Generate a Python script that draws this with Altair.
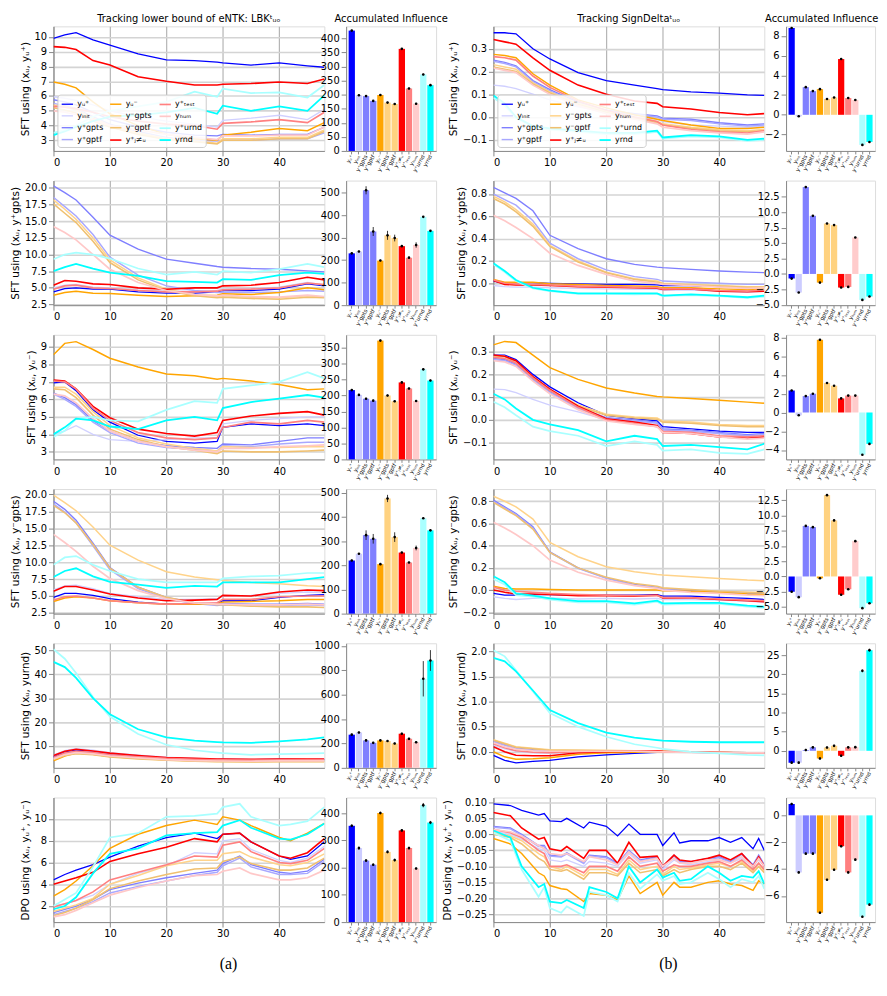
import altair as alt
import pandas as pd

# ---------------- series identity ----------------
LABELS = ["yᵤ⁺", "yᵢₙᵢₜ", "y⁺gpts", "y⁺gptf", "yᵤ⁻", "y⁻gpts", "y⁻gptf",
          "y⁺ⱼ≠ᵤ", "y⁺ₜₑₛₜ", "yₕᵤₘ", "y⁺urnd", "yrnd"]
LINE_COLORS = ["#0000ff", "#d0d0ff", "#7f7fff", "#a8a8ff", "#ffa500", "#ffd38a",
               "#f0c070", "#ff0000", "#ff8080", "#ffc8c8", "#a8ffff", "#00ffff"]
LINE_WIDTHS = [1.3, 1.8, 1.2, 2.2, 1.3, 2.2, 1.6, 1.3, 1.3, 1.8, 1.2, 1.5]
BAR_COLORS = ["#0000ff", "#ccccff", "#8080ff", "#8080ff", "#ffa500", "#ffd280",
              "#ffd280", "#ff0000", "#ff8080", "#ffcccc", "#aaffff", "#00ffff"]

# ---------------- epochs ----------------
X = [0, 2, 4, 7, 10, 15, 20, 25, 29, 30, 35, 40, 45, 48]
XL6 = [0, 2, 4, 7, 10, 15, 20, 25, 29, 30, 33, 35, 40, 42, 45, 48]
XR6 = [0, 3, 5, 8, 9, 10, 12, 13, 16, 17, 20, 22, 24, 26, 29, 30, 32, 33, 35, 38,
       40, 42, 44, 46, 47, 48]

# ---------------- line series (order = LABELS) ----------------
L1 = [
    [9.9, 10.15, 10.3, 9.8, 9.45, 8.85, 8.45, 8.4, 8.3, 8.25, 8.1, 8.25, 8.05, 7.95],
    [5.95, 5.85, 5.7, 5.4, 5.0, 4.6, 4.3, 4.1, 3.9, 4.35, 4.5, 4.7, 4.4, 5.1],
    [5.75, 5.6, 5.4, 4.9, 4.4, 3.9, 3.55, 3.35, 3.3, 3.4, 3.35, 3.4, 3.4, 3.9],
    [5.5, 5.35, 5.15, 4.6, 4.1, 3.6, 3.2, 3.0, 2.95, 3.0, 3.0, 3.1, 3.1, 3.5],
    [6.95, 6.8, 6.55, 5.6, 4.8, 4.0, 3.4, 3.1, 3.0, 3.35, 3.55, 3.8, 3.65, 4.2],
    [5.4, 5.25, 5.05, 4.5, 4.0, 3.5, 3.1, 2.95, 2.8, 3.1, 3.1, 3.2, 3.2, 3.7],
    [5.2, 5.05, 4.85, 4.3, 3.9, 3.4, 3.05, 2.9, 2.75, 3.0, 3.0, 3.1, 3.1, 3.6],
    [9.35, 9.3, 9.15, 8.4, 8.1, 7.3, 7.0, 6.75, 6.75, 6.8, 6.85, 6.95, 6.85, 7.15],
    [5.3, 5.25, 5.15, 4.9, 4.6, 4.3, 4.1, 4.0, 3.75, 4.15, 4.25, 4.4, 4.2, 4.9],
    [5.0, 4.9, 4.75, 4.4, 4.0, 3.7, 3.4, 3.2, 3.05, 3.3, 3.3, 3.35, 3.35, 3.9],
    [3.5, 3.7, 4.0, 4.6, 5.0, 5.3, 5.6, 6.3, 5.95, 6.5, 6.2, 6.25, 5.9, 6.75],
    [3.35, 3.6, 3.9, 4.3, 4.6, 4.7, 4.9, 5.2, 4.8, 5.35, 5.0, 5.3, 5.0, 6.05],
]
R1 = [
    [0.37, 0.37, 0.365, 0.30, 0.255, 0.195, 0.16, 0.14, 0.125, 0.12, 0.11, 0.105, 0.097, 0.095],
    [0.14, 0.135, 0.125, 0.10, 0.075, 0.045, 0.02, 0.0, -0.01, -0.02, -0.035, -0.04, -0.045, -0.04],
    [0.25, 0.24, 0.225, 0.16, 0.12, 0.065, 0.03, 0.015, 0.005, -0.005, -0.01, -0.025, -0.035, -0.03],
    [0.245, 0.235, 0.22, 0.155, 0.115, 0.06, 0.025, 0.01, 0.0, -0.01, -0.015, -0.03, -0.04, -0.035],
    [0.275, 0.27, 0.26, 0.19, 0.14, 0.075, 0.04, 0.01, -0.01, -0.015, -0.035, -0.05, -0.05, -0.045],
    [0.23, 0.22, 0.21, 0.15, 0.11, 0.06, 0.025, 0.0, -0.02, -0.03, -0.045, -0.055, -0.06, -0.055],
    [0.22, 0.21, 0.2, 0.145, 0.105, 0.055, 0.02, -0.005, -0.025, -0.035, -0.05, -0.06, -0.065, -0.06],
    [0.34, 0.33, 0.32, 0.26, 0.205, 0.14, 0.10, 0.07, 0.06, 0.045, 0.035, 0.02, 0.01, 0.015],
    [0.265, 0.26, 0.25, 0.18, 0.13, 0.07, 0.03, 0.0, -0.02, -0.035, -0.055, -0.065, -0.07, -0.06],
    [0.215, 0.205, 0.195, 0.14, 0.10, 0.05, 0.015, -0.01, -0.03, -0.045, -0.06, -0.07, -0.075, -0.065],
    [0.085, 0.05, -0.005, -0.045, -0.055, -0.065, -0.075, -0.075, -0.065, -0.095, -0.085, -0.09, -0.105, -0.1],
    [0.095, 0.06, 0.0, -0.04, -0.05, -0.06, -0.07, -0.07, -0.06, -0.09, -0.08, -0.085, -0.1, -0.095],
]
L2 = [
    [4.4, 4.9, 5.0, 4.8, 4.8, 4.4, 4.2, 4.2, 4.4, 4.6, 4.6, 4.8, 5.6, 5.3],
    [5.0, 5.4, 5.5, 5.1, 5.0, 4.7, 4.5, 4.5, 4.6, 4.8, 4.9, 5.1, 5.8, 5.4],
    [20.3, 19.3, 18.2, 15.6, 12.9, 10.8, 9.3, 8.7, 8.2, 8.1, 7.9, 7.8, 7.55, 7.4],
    [18.6, 17.2, 15.8, 13.0, 9.6, 6.9, 5.3, 4.6, 4.3, 4.35, 4.3, 4.4, 4.6, 4.5],
    [3.9, 4.3, 4.5, 4.2, 4.15, 3.9, 3.7, 3.8, 3.9, 4.1, 4.0, 4.3, 5.0, 4.7],
    [18.2, 16.8, 15.3, 12.5, 9.2, 6.5, 4.8, 4.0, 3.7, 3.8, 3.6, 3.5, 3.8, 3.6],
    [17.6, 16.2, 14.8, 12.0, 8.8, 6.2, 4.6, 3.8, 3.5, 3.6, 3.4, 3.3, 3.6, 3.5],
    [5.4, 6.1, 6.0, 5.6, 5.5, 5.0, 4.8, 5.0, 5.0, 5.3, 5.4, 5.8, 6.6, 6.2],
    [4.8, 5.3, 5.4, 5.0, 4.9, 4.6, 4.4, 4.4, 4.5, 4.7, 4.8, 5.0, 5.7, 5.5],
    [14.2, 13.3, 12.2, 10.0, 7.8, 5.8, 4.6, 4.0, 3.8, 3.9, 3.7, 3.6, 3.9, 3.7],
    [9.3, 10.0, 10.3, 10.0, 9.4, 7.9, 7.0, 7.4, 7.0, 7.5, 7.3, 7.8, 8.6, 8.1],
    [7.5, 8.1, 8.6, 7.9, 7.3, 6.8, 6.0, 5.9, 5.8, 6.3, 6.2, 6.9, 7.3, 7.1],
]
R2 = [
    [0.02, 0.0, 0.005, 0.005, 0.0, -0.005, -0.01, -0.01, -0.015, -0.02, -0.02, -0.03, -0.035, -0.035],
    [-0.02, -0.03, -0.035, -0.035, -0.04, -0.045, -0.05, -0.055, -0.055, -0.06, -0.06, -0.07, -0.08, -0.07],
    [0.86, 0.81, 0.76, 0.65, 0.43, 0.31, 0.22, 0.17, 0.145, 0.14, 0.125, 0.11, 0.10, 0.095],
    [0.80, 0.75, 0.70, 0.56, 0.36, 0.22, 0.12, 0.06, 0.035, 0.02, 0.01, 0.0, -0.01, -0.01],
    [0.035, 0.01, 0.01, 0.01, -0.005, -0.01, -0.02, -0.025, -0.03, -0.04, -0.04, -0.05, -0.055, -0.05],
    [0.78, 0.73, 0.66, 0.53, 0.34, 0.20, 0.10, 0.04, 0.02, 0.0, -0.01, -0.02, -0.03, -0.03],
    [0.76, 0.71, 0.64, 0.51, 0.33, 0.19, 0.095, 0.035, 0.01, -0.005, -0.015, -0.025, -0.035, -0.035],
    [0.025, -0.01, -0.015, -0.015, -0.02, -0.03, -0.035, -0.04, -0.045, -0.055, -0.05, -0.07, -0.075, -0.07],
    [0.03, 0.0, -0.005, -0.01, -0.015, -0.025, -0.03, -0.035, -0.04, -0.05, -0.05, -0.065, -0.07, -0.06],
    [0.61, 0.56, 0.50, 0.40, 0.27, 0.16, 0.08, 0.02, 0.0, -0.01, -0.02, -0.035, -0.045, -0.04],
    [0.17, 0.10, 0.02, -0.045, -0.07, -0.095, -0.095, -0.10, -0.095, -0.115, -0.105, -0.115, -0.13, -0.12],
    [0.18, 0.11, 0.03, -0.04, -0.065, -0.09, -0.09, -0.09, -0.09, -0.11, -0.10, -0.11, -0.125, -0.11],
]
L3 = [
    [6.95, 7.0, 6.5, 5.4, 4.7, 3.95, 3.6, 3.5, 3.6, 4.4, 4.6, 4.5, 4.6, 4.5],
    [4.0, 4.2, 4.5, 4.0, 3.7, 3.6, 3.7, 3.8, 3.8, 4.6, 4.8, 4.9, 5.0, 5.0],
    [6.35, 6.1, 5.7, 4.8, 4.2, 3.6, 3.35, 3.25, 3.2, 3.45, 3.4, 3.6, 3.8, 3.8],
    [6.3, 6.0, 5.6, 4.7, 4.1, 3.5, 3.25, 3.15, 3.05, 3.35, 3.3, 3.45, 3.55, 3.55],
    [8.55, 9.2, 9.3, 8.85, 8.35, 7.85, 7.45, 7.35, 7.15, 7.2, 7.05, 6.85, 6.55, 6.6],
    [6.7, 6.7, 6.3, 5.3, 4.5, 3.8, 3.45, 3.2, 3.05, 3.3, 3.25, 3.25, 3.3, 3.3],
    [6.6, 6.55, 6.1, 5.1, 4.3, 3.7, 3.3, 3.1, 2.9, 3.05, 3.0, 3.0, 3.05, 3.1],
    [7.1, 7.05, 6.6, 5.6, 4.95, 4.3, 4.05, 3.9, 4.1, 4.8, 5.05, 5.2, 5.3, 5.1],
    [7.05, 7.0, 6.6, 5.5, 4.8, 4.1, 3.8, 3.7, 3.8, 4.4, 4.7, 4.6, 4.8, 4.7],
    [6.3, 6.2, 5.8, 4.9, 4.2, 3.6, 3.3, 3.1, 3.0, 3.2, 3.2, 3.3, 3.35, 3.4],
    [3.85, 4.2, 4.9, 5.0, 4.8, 4.75, 5.4, 5.9, 5.8, 6.6, 6.8, 7.0, 7.55, 7.2],
    [4.0, 4.4, 4.9, 4.8, 4.45, 4.3, 4.8, 5.0, 4.8, 5.5, 5.85, 6.05, 6.25, 6.1],
]
R3 = [
    [0.285, 0.285, 0.265, 0.2, 0.145, 0.075, 0.02, 0.005, -0.005, -0.03, -0.04, -0.05, -0.055, -0.055],
    [0.135, 0.133, 0.12, 0.09, 0.065, 0.035, 0.0, -0.02, -0.03, -0.04, -0.045, -0.06, -0.07, -0.07],
    [0.27, 0.265, 0.245, 0.18, 0.125, 0.055, 0.01, 0.0, -0.01, -0.04, -0.045, -0.055, -0.065, -0.06],
    [0.265, 0.26, 0.24, 0.175, 0.12, 0.05, 0.005, -0.005, -0.015, -0.045, -0.05, -0.06, -0.07, -0.065],
    [0.33, 0.345, 0.34, 0.285, 0.23, 0.178, 0.14, 0.118, 0.103, 0.101, 0.094, 0.086, 0.078, 0.073],
    [0.28, 0.28, 0.255, 0.19, 0.135, 0.065, 0.025, 0.012, 0.008, -0.005, -0.01, -0.02, -0.025, -0.025],
    [0.278, 0.278, 0.25, 0.185, 0.13, 0.06, 0.02, 0.008, 0.003, -0.01, -0.015, -0.025, -0.03, -0.03],
    [0.285, 0.28, 0.26, 0.19, 0.135, 0.06, 0.005, -0.01, -0.025, -0.055, -0.06, -0.075, -0.08, -0.075],
    [0.275, 0.27, 0.25, 0.185, 0.13, 0.055, 0.0, -0.015, -0.03, -0.05, -0.055, -0.07, -0.075, -0.07],
    [0.26, 0.255, 0.235, 0.17, 0.115, 0.045, -0.005, -0.02, -0.03, -0.055, -0.06, -0.075, -0.085, -0.08],
    [0.08, 0.055, 0.02, -0.03, -0.05, -0.07, -0.115, -0.095, -0.11, -0.135, -0.13, -0.145, -0.15, -0.13],
    [0.115, 0.09, 0.05, 0.0, -0.02, -0.045, -0.095, -0.07, -0.085, -0.115, -0.11, -0.12, -0.13, -0.105],
]
L4 = [
    [4.8, 5.4, 5.4, 5.1, 4.6, 4.1, 3.8, 3.8, 3.9, 4.3, 4.3, 4.8, 5.1, 5.2],
    [5.9, 6.5, 6.6, 6.1, 5.4, 4.9, 4.5, 4.5, 4.6, 5.0, 5.1, 5.4, 5.6, 5.5],
    [19.0, 17.8, 16.2, 12.8, 9.2, 6.3, 4.8, 4.0, 3.8, 3.9, 3.8, 3.8, 3.9, 3.8],
    [18.6, 17.4, 15.8, 12.4, 8.9, 6.1, 4.6, 3.9, 3.6, 3.7, 3.6, 3.6, 3.7, 3.6],
    [4.2, 4.7, 4.9, 4.7, 4.3, 4.0, 3.8, 3.8, 3.9, 4.1, 4.2, 4.3, 4.5, 4.5],
    [19.9, 18.8, 17.6, 15.2, 12.5, 10.3, 8.6, 7.8, 7.4, 7.3, 7.0, 6.8, 6.5, 6.4],
    [18.4, 17.3, 15.8, 12.6, 9.1, 6.3, 4.8, 4.0, 3.7, 3.7, 3.5, 3.4, 3.4, 3.3],
    [5.7, 6.4, 6.4, 5.9, 5.3, 4.7, 4.3, 4.4, 4.5, 5.1, 5.0, 5.6, 5.9, 5.8],
    [4.4, 4.9, 5.0, 4.7, 4.3, 4.0, 3.8, 3.9, 4.0, 4.5, 4.5, 4.9, 5.0, 5.0],
    [14.1, 12.9, 11.6, 9.4, 7.6, 5.8, 4.6, 4.0, 3.8, 3.8, 3.7, 3.7, 3.8, 3.7],
    [9.6, 10.7, 10.9, 9.6, 8.7, 7.5, 7.0, 7.0, 7.0, 7.6, 7.9, 8.0, 8.4, 8.4],
    [7.8, 8.7, 9.1, 7.9, 7.1, 6.7, 6.2, 6.5, 6.4, 7.0, 7.0, 7.0, 7.5, 7.8],
]
R4 = [
    [-0.03, -0.045, -0.045, -0.04, -0.04, -0.045, -0.045, -0.045, -0.04, -0.055, -0.055, -0.065, -0.075, -0.085],
    [-0.06, -0.075, -0.085, -0.075, -0.07, -0.08, -0.075, -0.08, -0.075, -0.085, -0.085, -0.09, -0.1, -0.11],
    [0.81, 0.75, 0.69, 0.57, 0.345, 0.2, 0.11, 0.05, 0.025, 0.01, -0.005, -0.02, -0.03, -0.035],
    [0.8, 0.74, 0.68, 0.56, 0.34, 0.195, 0.105, 0.045, 0.02, 0.005, -0.01, -0.025, -0.035, -0.04],
    [0.035, 0.015, 0.01, 0.01, 0.005, 0.0, 0.0, 0.0, 0.0, -0.005, -0.01, -0.02, -0.035, -0.04],
    [0.845, 0.8, 0.75, 0.64, 0.43, 0.3, 0.21, 0.165, 0.14, 0.135, 0.12, 0.105, 0.09, 0.085],
    [0.79, 0.73, 0.67, 0.55, 0.34, 0.2, 0.115, 0.06, 0.035, 0.02, 0.005, -0.01, -0.02, -0.025],
    [0.0, -0.02, -0.035, -0.035, -0.04, -0.05, -0.05, -0.055, -0.045, -0.07, -0.07, -0.085, -0.095, -0.105],
    [0.025, 0.0, -0.01, -0.02, -0.03, -0.04, -0.045, -0.05, -0.05, -0.065, -0.07, -0.08, -0.09, -0.095],
    [0.61, 0.56, 0.5, 0.4, 0.27, 0.16, 0.09, 0.04, 0.015, 0.0, -0.02, -0.03, -0.045, -0.05],
    [0.1, 0.05, -0.045, -0.06, -0.085, -0.11, -0.11, -0.13, -0.105, -0.13, -0.125, -0.125, -0.15, -0.16],
    [0.125, 0.07, -0.03, -0.05, -0.075, -0.1, -0.1, -0.12, -0.095, -0.12, -0.115, -0.115, -0.14, -0.15],
]
L5 = [
    [5.5, 7.5, 8.3, 7.8, 6.8, 5.9, 5.0, 4.5, 4.3, 4.4, 4.3, 4.4, 4.4, 4.4],
    [6.2, 8.0, 8.9, 8.2, 7.2, 6.2, 5.3, 4.8, 4.5, 4.5, 4.4, 4.5, 4.5, 4.5],
    [5.0, 7.0, 7.8, 7.2, 6.3, 5.4, 4.6, 4.2, 4.0, 4.0, 3.9, 4.0, 4.0, 4.0],
    [4.8, 6.6, 7.4, 6.9, 6.0, 5.2, 4.4, 4.0, 3.8, 3.8, 3.8, 3.9, 3.9, 3.9],
    [3.8, 5.8, 7.0, 6.5, 5.6, 4.9, 4.2, 3.8, 3.6, 3.6, 3.6, 3.6, 3.6, 3.6],
    [4.5, 6.2, 7.0, 6.5, 5.6, 4.8, 4.1, 3.7, 3.5, 3.5, 3.4, 3.5, 3.5, 3.5],
    [4.3, 6.0, 6.8, 6.3, 5.4, 4.6, 4.0, 3.6, 3.4, 3.4, 3.3, 3.4, 3.4, 3.4],
    [6.0, 7.8, 8.6, 7.9, 7.0, 6.0, 5.2, 4.8, 4.5, 4.5, 4.4, 4.5, 4.6, 4.5],
    [5.2, 7.0, 7.8, 7.2, 6.3, 5.5, 4.8, 4.4, 4.2, 4.2, 4.1, 4.2, 4.4, 4.3],
    [4.6, 6.4, 7.2, 6.7, 5.8, 5.0, 4.3, 3.9, 3.7, 3.7, 3.6, 3.8, 3.8, 3.8],
    [50.5, 46.5, 40.5, 30.5, 22.3, 15.0, 10.5, 8.2, 7.2, 7.0, 6.3, 6.6, 6.8, 7.0],
    [45.2, 43.0, 38.5, 30.0, 23.3, 17.0, 13.6, 12.2, 11.6, 11.5, 11.3, 11.9, 12.8, 13.6],
]
R5 = [
    [-0.07, -0.17, -0.22, -0.19, -0.17, -0.1, -0.06, -0.03, -0.01, -0.01, -0.01, -0.01, -0.02, -0.02],
    [0.13, 0.06, 0.01, -0.02, -0.03, -0.01, 0.0, 0.0, 0.0, 0.0, -0.01, -0.01, -0.02, -0.02],
    [0.22, 0.15, 0.08, 0.04, 0.02, 0.02, 0.02, 0.01, 0.0, 0.0, -0.01, -0.01, -0.02, -0.02],
    [0.2, 0.13, 0.06, 0.03, 0.01, 0.01, 0.01, 0.0, 0.0, -0.01, -0.01, -0.02, -0.02, -0.02],
    [0.0, -0.1, -0.15, -0.14, -0.12, -0.05, -0.02, -0.01, 0.0, 0.0, -0.01, -0.01, -0.03, -0.03],
    [0.24, 0.17, 0.1, 0.07, 0.04, 0.03, 0.03, 0.02, 0.01, 0.01, 0.0, -0.01, -0.02, -0.02],
    [0.23, 0.16, 0.09, 0.06, 0.03, 0.03, 0.02, 0.02, 0.01, 0.01, 0.0, -0.01, -0.02, -0.02],
    [0.1, 0.0, -0.07, -0.08, -0.08, -0.02, 0.0, 0.01, 0.02, 0.01, 0.0, -0.01, -0.03, -0.03],
    [0.16, 0.08, 0.02, -0.01, -0.02, 0.0, 0.01, 0.01, 0.01, 0.0, -0.01, -0.02, -0.03, -0.03],
    [0.18, 0.1, 0.05, 0.02, 0.01, 0.01, 0.01, 0.01, 0.0, 0.0, -0.01, -0.01, -0.02, -0.02],
    [2.02, 1.9, 1.62, 1.2, 0.77, 0.5, 0.3, 0.15, 0.08, 0.06, 0.0, -0.03, -0.06, -0.07],
    [1.87, 1.8, 1.6, 1.22, 0.83, 0.57, 0.38, 0.28, 0.23, 0.22, 0.2, 0.19, 0.19, 0.19],
]
L6 = [
    [4.4, 4.9, 5.3, 5.8, 6.5, 7.5, 8.3, 8.7, 8.2, 8.6, 8.7, 7.9, 6.6, 6.3, 6.6, 7.9],
    [2.0, 2.2, 2.5, 3.0, 4.0, 5.0, 5.7, 6.9, 6.8, 8.0, 8.2, 7.2, 6.2, 6.0, 6.4, 7.5],
    [1.4, 1.7, 2.0, 2.6, 3.5, 4.1, 4.6, 5.0, 5.3, 5.9, 6.6, 5.8, 5.1, 5.0, 5.2, 6.3],
    [1.2, 1.5, 1.8, 2.4, 3.2, 3.8, 4.3, 4.8, 5.1, 5.7, 6.4, 5.6, 4.9, 4.9, 5.0, 6.1],
    [2.9, 3.5, 4.3, 5.7, 7.3, 8.6, 9.4, 9.9, 9.5, 10.2, 9.9, 9.4, 8.3, 8.0, 8.7, 9.6],
    [1.5, 1.8, 2.1, 2.7, 4.0, 4.8, 5.7, 6.2, 6.2, 6.8, 7.0, 6.5, 5.8, 5.7, 6.0, 6.8],
    [1.1, 1.4, 1.8, 2.6, 3.6, 4.3, 4.9, 5.4, 5.5, 6.1, 6.5, 5.9, 5.3, 5.3, 5.5, 6.4],
    [4.0, 4.3, 4.6, 5.1, 6.1, 6.8, 7.4, 8.2, 7.9, 8.6, 8.7, 7.9, 6.6, 6.4, 6.9, 8.2],
    [1.9, 2.2, 2.5, 3.3, 4.4, 5.1, 5.8, 6.6, 6.5, 7.6, 7.9, 7.0, 6.0, 5.9, 6.2, 7.3],
    [1.0, 1.2, 1.6, 2.3, 3.0, 3.7, 4.3, 4.8, 4.9, 5.2, 5.5, 5.0, 4.4, 4.4, 4.6, 5.3],
    [2.0, 2.6, 3.2, 5.6, 8.3, 8.7, 10.2, 10.3, 10.5, 11.1, 11.4, 10.2, 9.4, 9.5, 9.8, 11.1],
    [1.7, 2.0, 2.8, 5.0, 6.8, 7.3, 8.5, 8.7, 8.8, 9.4, 9.9, 9.2, 8.2, 8.1, 8.6, 9.6],
]
R6 = [
    [0.095, 0.09, 0.075, 0.06, 0.065, 0.042, 0.04, 0.05, 0.02, 0.038, 0.025, -0.005, 0.032, 0.0, 0.0, -0.035, 0.005, -0.027, -0.02, -0.02, -0.01, -0.025, -0.01, -0.045, -0.013, -0.05],
    [0.01, 0.0, -0.015, -0.045, -0.05, -0.08, -0.085, -0.08, -0.1, -0.085, -0.09, -0.1, -0.06, -0.09, -0.08, -0.11, -0.08, -0.09, -0.095, -0.085, -0.08, -0.09, -0.075, -0.1, -0.08, -0.1],
    [0.025, 0.02, 0.0, -0.035, -0.035, -0.065, -0.068, -0.058, -0.088, -0.065, -0.07, -0.09, -0.05, -0.08, -0.07, -0.1, -0.065, -0.085, -0.085, -0.075, -0.07, -0.085, -0.06, -0.095, -0.065, -0.095],
    [0.022, 0.017, -0.003, -0.038, -0.038, -0.068, -0.071, -0.061, -0.091, -0.068, -0.073, -0.093, -0.053, -0.083, -0.073, -0.103, -0.068, -0.088, -0.088, -0.078, -0.073, -0.088, -0.063, -0.098, -0.068, -0.098],
    [-0.013, -0.03, -0.06, -0.12, -0.13, -0.16, -0.17, -0.172, -0.21, -0.185, -0.19, -0.205, -0.13, -0.185, -0.15, -0.19, -0.15, -0.165, -0.165, -0.15, -0.145, -0.155, -0.16, -0.175, -0.145, -0.155],
    [0.005, -0.005, -0.02, -0.06, -0.07, -0.1, -0.11, -0.1, -0.13, -0.11, -0.11, -0.125, -0.08, -0.11, -0.1, -0.125, -0.1, -0.11, -0.105, -0.095, -0.09, -0.1, -0.085, -0.115, -0.09, -0.115],
    [0.0, -0.01, -0.03, -0.075, -0.085, -0.11, -0.115, -0.11, -0.14, -0.12, -0.12, -0.13, -0.09, -0.12, -0.11, -0.13, -0.11, -0.12, -0.11, -0.1, -0.1, -0.11, -0.09, -0.12, -0.1, -0.12],
    [0.068, 0.058, 0.02, -0.015, -0.01, -0.045, -0.052, -0.038, -0.075, -0.05, -0.05, -0.09, -0.025, -0.072, -0.068, -0.1, -0.065, -0.08, -0.085, -0.075, -0.065, -0.08, -0.06, -0.1, -0.07, -0.1],
    [0.015, 0.005, -0.01, -0.05, -0.06, -0.1, -0.1, -0.095, -0.12, -0.1, -0.1, -0.115, -0.07, -0.1, -0.09, -0.115, -0.095, -0.1, -0.1, -0.09, -0.085, -0.1, -0.08, -0.11, -0.09, -0.11],
    [0.015, 0.008, -0.005, -0.035, -0.045, -0.06, -0.065, -0.06, -0.085, -0.07, -0.08, -0.095, -0.055, -0.085, -0.075, -0.1, -0.075, -0.09, -0.09, -0.08, -0.08, -0.09, -0.07, -0.1, -0.075, -0.1],
    [0.005, -0.02, -0.11, -0.195, -0.165, -0.23, -0.245, -0.225, -0.255, -0.18, -0.19, -0.21, -0.12, -0.17, -0.125, -0.145, -0.13, -0.155, -0.15, -0.12, -0.14, -0.165, -0.14, -0.15, -0.13, -0.17],
    [0.012, -0.01, -0.1, -0.165, -0.155, -0.21, -0.215, -0.205, -0.23, -0.165, -0.18, -0.2, -0.1, -0.15, -0.11, -0.135, -0.12, -0.145, -0.14, -0.1, -0.12, -0.145, -0.13, -0.135, -0.115, -0.155],
]

# ---------------- accumulated influence bars (order = LABELS) ----------------
BAR_L1 = [428, 198, 195, 178, 199, 172, 167, 363, 222, 168, 272, 234]
ERR_L1 = [3, 3, 3, 3, 3, 3, 3, 3, 3, 3, 3, 3]
BAR_R1 = [8.8, -0.15, 2.8, 2.4, 2.6, 1.6, 1.75, 5.65, 1.7, 1.5, -3.05, -2.75]
ERR_R1 = [0.07, 0.07, 0.07, 0.07, 0.07, 0.07, 0.07, 0.07, 0.07, 0.07, 0.07, 0.07]
BAR_L2 = [230, 238, 510, 327, 198, 310, 298, 262, 211, 267, 392, 330]
ERR_L2 = [4, 4, 18, 20, 4, 20, 15, 3, 3, 12, 3, 3]
BAR_R2 = [-0.75, -3.0, 14.05, 9.4, -1.4, 8.15, 7.9, -2.2, -2.1, 5.9, -4.2, -3.65]
ERR_R2 = [0.1, 0.1, 0.12, 0.1, 0.1, 0.1, 0.1, 0.1, 0.1, 0.1, 0.1, 0.1]
BAR_L3 = [217, 202, 190, 184, 372, 200, 182, 241, 222, 183, 282, 247]
ERR_L3 = [3, 3, 3, 3, 3, 3, 3, 3, 3, 3, 3, 3]
BAR_R3 = [2.35, -0.3, 1.75, 2.0, 7.75, 3.15, 2.85, 1.5, 1.8, 1.8, -4.5, -3.35]
ERR_R3 = [0.07, 0.07, 0.07, 0.07, 0.07, 0.07, 0.07, 0.07, 0.07, 0.07, 0.07, 0.07]
BAR_L4 = [220, 248, 325, 310, 205, 477, 317, 253, 212, 272, 395, 345]
ERR_L4 = [4, 3, 20, 20, 3, 15, 20, 3, 3, 10, 3, 3]
BAR_R4 = [-2.5, -3.4, 8.3, 8.1, -0.3, 13.35, 9.2, -3.0, -2.1, 5.8, -5.2, -4.4]
ERR_R4 = [0.12, 0.12, 0.12, 0.12, 0.12, 0.12, 0.12, 0.12, 0.12, 0.12, 0.12, 0.12]
BAR_L5 = [272, 290, 225, 205, 225, 220, 200, 280, 238, 210, 730, 880]
ERR_L5 = [8, 8, 8, 8, 8, 8, 8, 8, 8, 8, 145, 85]
BAR_R5 = [-3.1, -3.1, 0.2, 0.9, -2.0, 0.85, 1.3, -1.3, 0.9, 0.95, 20.9, 26.3]
ERR_R5 = [0.3, 0.3, 0.3, 0.3, 0.3, 0.3, 0.3, 0.3, 0.3, 0.3, 0.35, 0.35]
BAR_L6 = [354, 272, 226, 211, 401, 258, 228, 337, 272, 197, 430, 366]
ERR_L6 = [5, 6, 5, 5, 5, 5, 5, 5, 5, 4, 8, 6]
BAR_R6 = [0.85, -4.25, -2.85, -2.85, -7.25, -4.8, -4.05, -2.3, -4.25, -3.3, -7.55, -6.65]
ERR_R6 = [0.08, 0.08, 0.08, 0.08, 0.08, 0.08, 0.08, 0.08, 0.08, 0.08, 0.08, 0.08]

# ---------------- layout sizes ----------------
H = 126
W_LL, W_BL, W_GAP, W_LR, W_BR = 274, 91, 14, 274, 90
FONT = "DejaVu Sans"


def line_panel(xs, series, ydom, yticks, yfmt, ytitle, width, legend=False,
               title=None, caption=None):
    rows = []
    for i, s in enumerate(series):
        for x, v in zip(xs, s):
            rows.append({"epoch": x, "value": v, "series": LABELS[i]})
    df = pd.DataFrame(rows)
    if legend:
        leg = alt.Legend(orient="none", legendX=4, legendY=69, columns=3, title=None,
                         symbolType="stroke", symbolStrokeWidth=1.8, symbolSize=130,
                         labelFontSize=8, labelFont=FONT, fillColor="rgba(255,255,255,0.85)",
                         strokeColor="#cccccc", padding=3, rowPadding=1, columnPadding=3,
                         labelLimit=40, cornerRadius=3, labelOffset=3)
    else:
        leg = None
    base = alt.Chart(df).mark_line(clip=True).encode(
        x=alt.X("epoch:Q", scale=alt.Scale(domain=[0, 48], nice=False, zero=False),
                axis=alt.Axis(values=[0, 10, 20, 30, 40], format="d", title=None,
                              grid=True, gridColor="#b4b4b4", gridWidth=1.2)),
        y=alt.Y("value:Q", scale=alt.Scale(domain=ydom, nice=False, zero=False),
                axis=alt.Axis(values=yticks, format=yfmt, title=ytitle, grid=True,
                              gridColor="#d4d4d4", gridWidth=1.6, labelOverlap=False,
                              titleFontWeight="normal", titleFontSize=10.5)),
        color=alt.Color("series:N", scale=alt.Scale(domain=LABELS, range=LINE_COLORS),
                        legend=leg),
        strokeWidth=alt.StrokeWidth("series:N",
                                    scale=alt.Scale(domain=LABELS, range=LINE_WIDTHS),
                                    legend=None),
    )
    ch = base
    if caption is not None:
        cap = alt.Chart(pd.DataFrame({"t": [caption]})).mark_text(
            font="Liberation Serif", fontSize=16, color="black").encode(
            text="t:N", x=alt.value(177), y=alt.value(H + 42))
        ch = alt.layer(base, cap)
    props = dict(width=width, height=H)
    if title is not None:
        props["title"] = alt.TitleParams(title, fontSize=10, font=FONT,
                                         fontWeight="normal", offset=2)
    return ch.properties(**props)


def bar_panel(vals, errs, ydom, yticks, yfmt, width, title=False, title_dx=0):
    df = pd.DataFrame({
        "label": LABELS,
        "value": vals,
        "lo": [v - e for v, e in zip(vals, errs)],
        "hi": [v + e for v, e in zip(vals, errs)],
    })
    xaxis = alt.Axis(title=None, labelAngle=-60, labelFontSize=5.5,
                     labelPadding=1, tickSize=3, labelOverlap=False)
    yaxis = alt.Axis(values=yticks, format=yfmt, title=None, grid=False,
                     labelOverlap=False)
    xscale = alt.Scale(paddingInner=0.12, paddingOuter=0.35)
    yscale = alt.Scale(domain=ydom, nice=False, zero=False)
    bars = alt.Chart(df).mark_bar().encode(
        x=alt.X("label:N", sort=LABELS, scale=xscale, axis=xaxis),
        y=alt.Y("value:Q", scale=yscale, axis=yaxis),
        y2=alt.datum(0),
        color=alt.Color("label:N", scale=alt.Scale(domain=LABELS, range=BAR_COLORS),
                        legend=None),
    )
    rules = alt.Chart(df).mark_rule(color="#222222", strokeWidth=0.9).encode(
        x=alt.X("label:N", sort=LABELS, scale=xscale, axis=xaxis),
        y=alt.Y("lo:Q", scale=yscale, axis=yaxis), y2="hi:Q")
    dots = alt.Chart(df).mark_point(filled=True, color="black", size=7, opacity=1).encode(
        x=alt.X("label:N", sort=LABELS, scale=xscale, axis=xaxis),
        y=alt.Y("value:Q", scale=yscale, axis=yaxis))
    props = dict(width=width, height=H)
    if title:
        props["title"] = alt.TitleParams("Accumulated Influence", fontSize=10, font=FONT,
                                         fontWeight="normal", offset=2, dx=title_dx)
    return alt.layer(bars, rules, dots).properties(**props)


def spacer():
    return alt.Chart(pd.DataFrame({"a": [0]})).mark_point(opacity=0).encode(
        x=alt.value(0), y=alt.value(0)).properties(
        width=W_GAP, height=H, view=alt.ViewBackground(strokeOpacity=0))


F1 = ".1f"
F0 = "d"

left_lines = [
    line_panel(X, L1, [2.28, 10.72], [3, 4, 5, 6, 7, 8, 9, 10], F0,
               "SFT using (xᵤ, yᵤ⁺)", W_LL, legend=True,
               title="Tracking lower bound of eNTK: LBKᵗᵤₒ"),
    line_panel(X, L2, [2.4, 21.1], [2.5, 5, 7.5, 10, 12.5, 15, 17.5, 20], F1,
               "SFT using (xᵤ, y⁺gpts)", W_LL),
    line_panel(X, L3, [2.57, 9.69], [3, 4, 5, 6, 7, 8, 9], F0,
               "SFT using (xᵤ, yᵤ⁻)", W_LL),
    line_panel(X, L4, [2.4, 20.8], [2.5, 5, 7.5, 10, 12.5, 15, 17.5, 20], F1,
               "SFT using (xᵤ, y⁻gpts)", W_LL),
    line_panel(X, L5, [0.84, 52.96], [10, 20, 30, 40, 50], F0,
               "SFT using (xᵤ, yurnd)", W_LL),
    line_panel(XL6, L6, [0.52, 11.98], [2, 4, 6, 8, 10], F0,
               "DPO using (xᵤ, yᵤ⁺, yᵤ⁻)", W_LL, caption="(a)"),
]
left_bars = [
    bar_panel(BAR_L1, ERR_L1, [0, 443], [0, 50, 100, 150, 200, 250, 300, 350, 400], F0,
              W_BL, title=True),
    bar_panel(BAR_L2, ERR_L2, [0, 553], [0, 100, 200, 300, 400, 500], F0, W_BL),
    bar_panel(BAR_L3, ERR_L3, [0, 390], [0, 50, 100, 150, 200, 250, 300, 350], F0, W_BL),
    bar_panel(BAR_L4, ERR_L4, [0, 516], [0, 100, 200, 300, 400, 500], F0, W_BL),
    bar_panel(BAR_L5, ERR_L5, [0, 1021], [0, 200, 400, 600, 800, 1000], F0, W_BL),
    bar_panel(BAR_L6, ERR_L6, [0, 458], [0, 100, 200, 300, 400], F0, W_BL),
]
right_lines = [
    line_panel(X, R1, [-0.149, 0.398], [-0.1, 0.0, 0.1, 0.2, 0.3], F1,
               "SFT using (xᵤ, yᵤ⁺)", W_LR, legend=True,
               title="Tracking SignDeltaᵗᵤₒ"),
    line_panel(X, R2, [-0.196, 0.92], [0.0, 0.2, 0.4, 0.6, 0.8], F1,
               "SFT using (xᵤ, y⁺gpts)", W_LR),
    line_panel(X, R3, [-0.174, 0.374], [-0.1, 0.0, 0.1, 0.2, 0.3], F1,
               "SFT using (xᵤ, yᵤ⁻)", W_LR),
    line_panel(X, R4, [-0.212, 0.91], [-0.2, 0.0, 0.2, 0.4, 0.6, 0.8], F1,
               "SFT using (xᵤ, y⁻gpts)", W_LR),
    line_panel(X, R5, [-0.32, 2.16], [0.0, 0.5, 1.0, 1.5, 2.0], F1,
               "SFT using (xᵤ, yurnd)", W_LR),
    line_panel(XR6, R6, [-0.274, 0.115],
               [-0.25, -0.2, -0.15, -0.1, -0.05, 0.0, 0.05, 0.1], ".2f",
               "DPO using (xᵤ, yᵤ⁺, yᵤ⁻)", W_LR, caption="(b)"),
]
right_bars = [
    bar_panel(BAR_R1, ERR_R1, [-3.66, 8.96], [-2, 0, 2, 4, 6, 8], F0, W_BR,
              title=True, title_dx=-9),
    bar_panel(BAR_R2, ERR_R2, [-5.05, 15.1], [-5, -2.5, 0, 2.5, 5, 7.5, 10, 12.5], F1, W_BR),
    bar_panel(BAR_R3, ERR_R3, [-5.0, 8.28], [-4, -2, 0, 2, 4, 6, 8], F0, W_BR),
    bar_panel(BAR_R4, ERR_R4, [-6.1, 14.35], [-5, -2.5, 0, 2.5, 5, 7.5, 10, 12.5], F1, W_BR),
    bar_panel(BAR_R5, ERR_R5, [-4.46, 28.1], [0, 5, 10, 15, 20, 25], F0, W_BR),
    bar_panel(BAR_R6, ERR_R6, [-7.95, 1.33], [-6, -4, -2, 0], F0, W_BR),
]

cells = []
for r in range(6):
    cells += [left_lines[r], left_bars[r], spacer(), right_lines[r], right_bars[r]]

chart = alt.concat(
    *cells, columns=5, spacing={"row": 30, "column": 22}, bounds="flush", align="each",
    padding={"left": 2, "top": 0, "right": 0, "bottom": 2},
).resolve_scale(
    color="independent", strokeWidth="independent"
).resolve_legend(
    color="independent", strokeWidth="independent"
).configure_view(
    stroke="black", strokeWidth=1
).configure_axis(
    domain=False, tickColor="black", tickSize=3.5, labelFontSize=7, labelColor="black",
    labelFont=FONT, titleFont=FONT, titleFontSize=10, titleFontWeight="normal",
    titleColor="black", labelPadding=1.5, titlePadding=3
).configure_title(
    font=FONT, fontSize=10, fontWeight="normal", color="black"
).configure(font=FONT)

chart.save("out.html", embed_options={"renderer": "svg", "actions": False})
